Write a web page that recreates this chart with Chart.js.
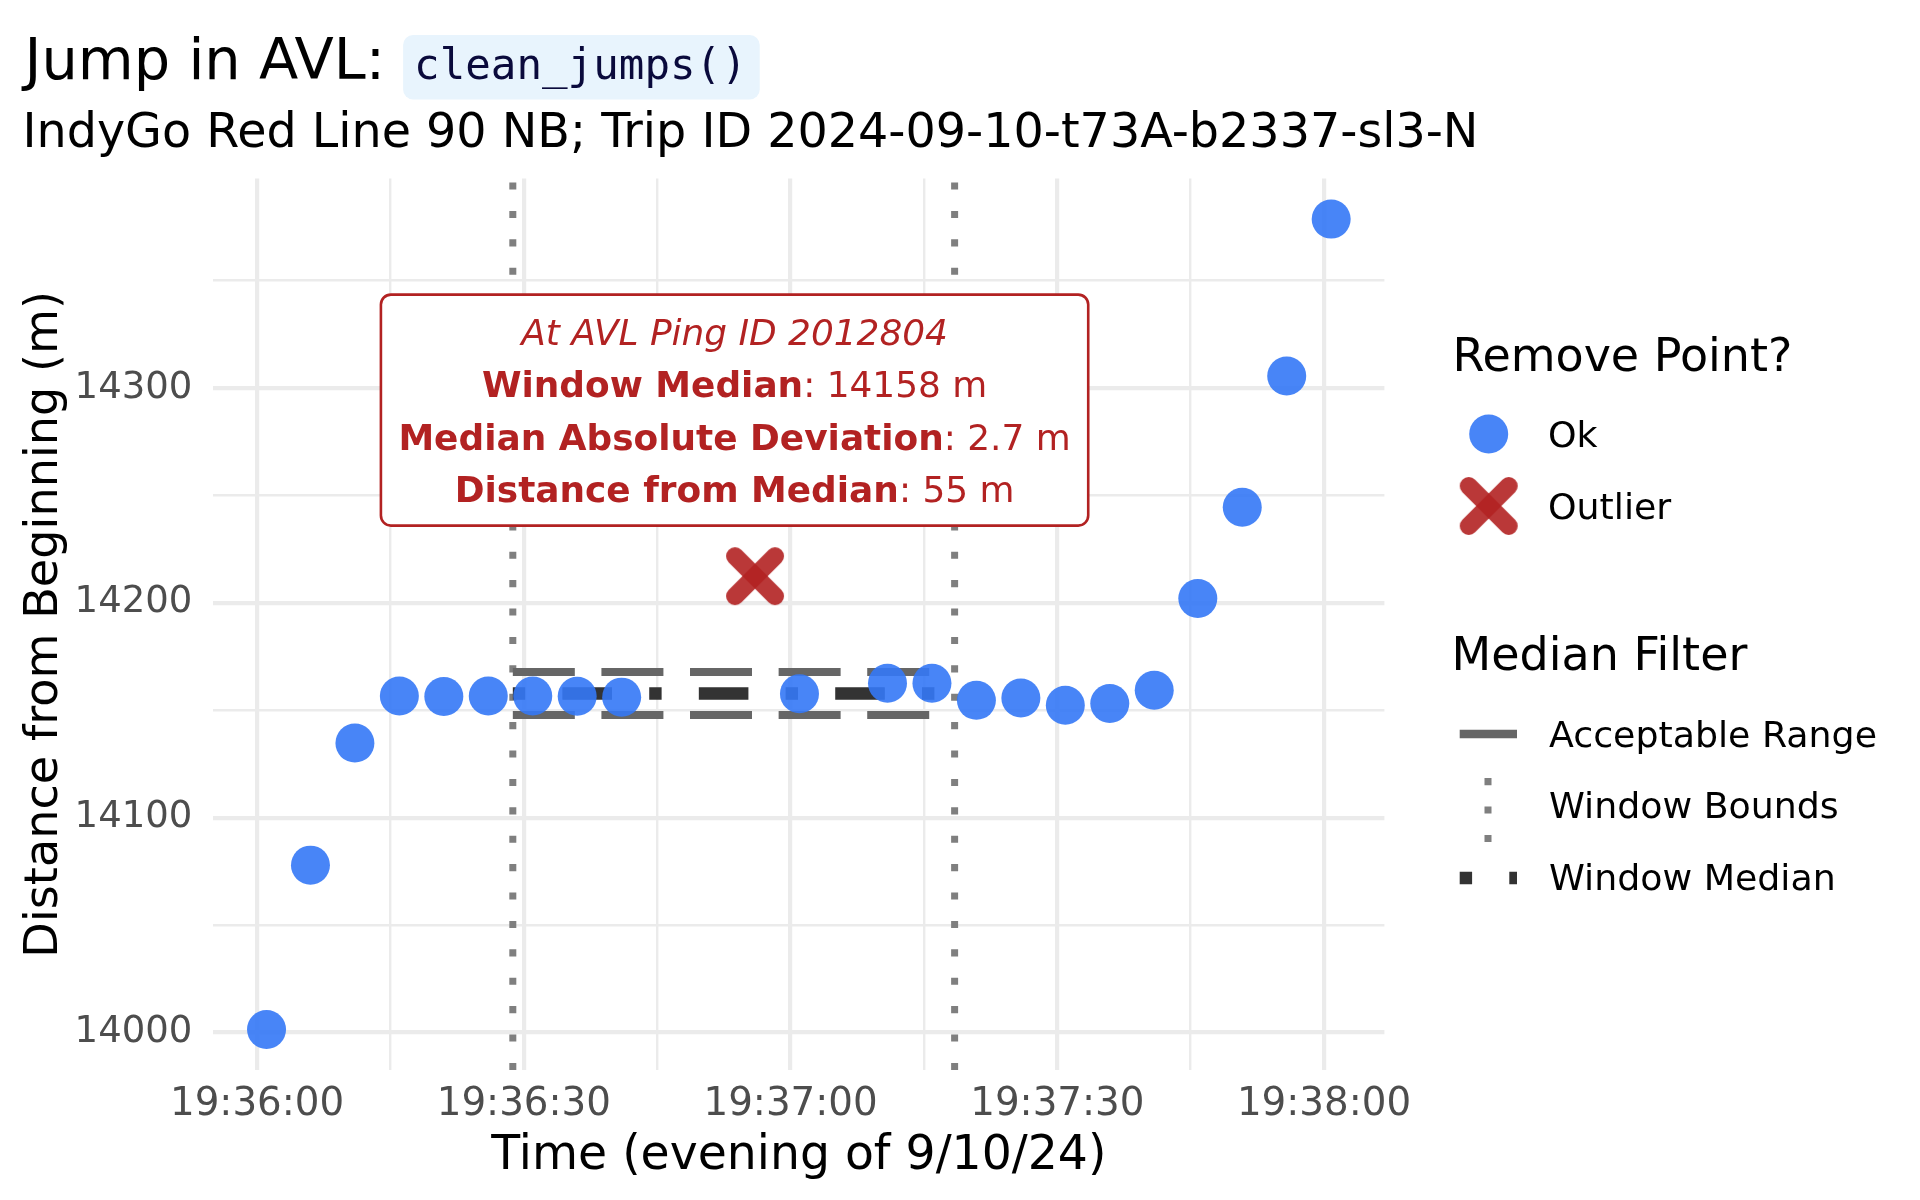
<!DOCTYPE html>
<html><head><meta charset="utf-8">
<script src="https://cdn.jsdelivr.net/npm/chart.js@4.4.1/dist/chart.umd.min.js"></script>
<style>html,body{margin:0;padding:0;background:#fff;} #wrap{width:1920px;height:1200px;position:relative;}</style>
</head><body><div id="wrap"><canvas id="c" width="1920" height="1200"></canvas></div>
<script>
// ---- data (seconds after 19:36:00, metres from beginning) ----
const okTimes = [1.06, 6.0, 11.0, 16.0, 21.0, 26.0, 31.0, 36.0, 41.0, 61.0, 70.9, 75.9, 80.9, 85.9, 90.9, 95.9, 100.9, 105.8, 110.8, 115.8, 120.8];
const okDist  = [14001.4, 14077.9, 14134.7, 14156.6, 14156.4, 14156.6, 14156.6, 14156.5, 14156.1, 14157.7, 14162.6, 14162.6, 14154.6, 14155.7, 14152.3, 14153.1, 14159.3, 14202.0, 14244.5, 14305.6, 14378.6];
const outlierTimes = [56.0];
const outlierDist  = [14212.4];
const windowBounds = [28.76, 78.45];
const windowMedian = [14157.8];
const acceptableRange = [14147.8, 14167.8];
const xTickValues = [0, 30, 60, 90, 120];
const xTickLabels = ['19:36:00', '19:36:30', '19:37:00', '19:37:30', '19:38:00'];
const yTickValues = [14000, 14100, 14200, 14300];
const yTickLabels = ['14000', '14100', '14200', '14300'];
const annotAnchor = [53.7, 14289.7];
const annotLines = [
  [['At AVL Ping ID 2012804', 'italic']],
  [['Window Median', 'bold'], [': 14158 m', 'normal']],
  [['Median Absolute Deviation', 'bold'], [': 2.7 m', 'normal']],
  [['Distance from Median', 'bold'], [': 55 m', 'normal']]
];
const legendPoint = ['Ok', 'Outlier'];
const legendFilter = ['Acceptable Range', 'Window Bounds', 'Window Median'];

// ---- scale limits: 5% expansion of data range ----
const allT = okTimes.concat(outlierTimes), allD = okDist.concat(outlierDist);
const tMin = Math.min(...allT), tMax = Math.max(...allT);
const dMin = Math.min(...allD), dMax = Math.max(...allD);
const xMin = tMin - 0.05 * (tMax - tMin), xMax = tMax + 0.05 * (tMax - tMin);
const yMin = dMin - 0.05 * (dMax - dMin), yMax = dMax + 0.05 * (dMax - dMin);

const FONT = '"DejaVu Sans"';
const BLUE = 'rgba(52,120,246,0.9)';
const RED = 'rgba(178,34,34,0.9)';

function makeCross(size, arm, lw) {
  const c = document.createElement('canvas');
  c.width = size; c.height = size;
  const g = c.getContext('2d');
  const m = size / 2;
  g.strokeStyle = RED; g.lineWidth = lw; g.lineCap = 'round';
  g.beginPath(); g.moveTo(m - arm, m - arm); g.lineTo(m + arm, m + arm); g.stroke();
  g.beginPath(); g.moveTo(m + arm, m - arm); g.lineTo(m - arm, m + arm); g.stroke();
  return c;
}
const crossImg = makeCross(64, 20, 18);

const medDash = [12.4, 37.2, 49.6, 37.2];
const rangeDash = [62, 26.6];
const boundDash = [7.1, 21.3];

function drawCrossAt(ctx, x, y) {
  ctx.drawImage(crossImg, x - crossImg.width / 2, y - crossImg.height / 2);
}

const decor = {
  id: 'decor',
  afterDraw(chart) {
    const ctx = chart.ctx, ca = chart.chartArea;
    const xs = chart.scales.x, ys = chart.scales.y;
    ctx.save();
    ctx.textAlign = 'left'; ctx.textBaseline = 'alphabetic';
    // title
    ctx.fillStyle = '#000';
    ctx.font = '57.4px ' + FONT;
    const t1 = 'Jump in AVL:';
    ctx.fillText(t1, 24.5, 79);
    const w1 = ctx.measureText(t1).width;
    ctx.font = '42.5px "DejaVu Sans Mono"';
    const code = 'clean_jumps()';
    const cw = ctx.measureText(code).width;
    const bx = 24.5 + w1 + 18, by = 35, bw = cw + 24, bh = 64.5;
    ctx.fillStyle = '#E8F4FD';
    ctx.beginPath(); ctx.roundRect(bx, by, bw, bh, 10); ctx.fill();
    ctx.fillStyle = '#0A0A3C';
    ctx.fillText(code, bx + 11, 79);
    // subtitle
    ctx.fillStyle = '#000';
    ctx.font = '47.6px ' + FONT;
    ctx.fillText('IndyGo Red Line 90 NB; Trip ID 2024-09-10-t73A-b2337-sl3-N', 22.5, 146.5);
    // axis titles
    ctx.font = '47.3px ' + FONT;
    ctx.textAlign = 'center';
    ctx.fillText('Time (evening of 9/10/24)', (ca.left + ca.right) / 2, 1169);
    ctx.save();
    ctx.font = '46.2px ' + FONT;
    ctx.translate(56.5, (ca.top + ca.bottom) / 2);
    ctx.rotate(-Math.PI / 2);
    ctx.fillText('Distance from Beginning (m)', 0, 0);
    ctx.restore();

    // annotation label
    const cx = xs.getPixelForValue(annotAnchor[0]);
    const cy = ys.getPixelForValue(annotAnchor[1]);
    const fs = 35.9;
    const fontFor = st => (st === 'bold' ? 'bold ' : st === 'italic' ? 'italic ' : '') + fs + 'px ' + FONT;
    let maxW = 0;
    const widths = annotLines.map(line => {
      let w = 0;
      line.forEach(([txt, st]) => { ctx.font = fontFor(st); w += ctx.measureText(txt).width; });
      maxW = Math.max(maxW, w);
      return w;
    });
    const pad = 17.5, boxW = maxW + 2 * pad, boxH = 231;
    ctx.fillStyle = '#fff'; ctx.strokeStyle = '#B22222'; ctx.lineWidth = 2.6;
    ctx.beginPath(); ctx.roundRect(cx - boxW / 2, cy - boxH / 2, boxW, boxH, 10); ctx.fill(); ctx.stroke();
    ctx.fillStyle = '#B22222'; ctx.textAlign = 'left';
    const offs = [-65.5, -13, 39.5, 92];
    annotLines.forEach((line, i) => {
      let x = cx - widths[i] / 2;
      line.forEach(([txt, st]) => {
        ctx.font = fontFor(st);
        ctx.fillText(txt, x, cy + offs[i]);
        x += ctx.measureText(txt).width;
      });
    });

    // legend: Remove Point?
    ctx.fillStyle = '#000';
    ctx.font = '46px ' + FONT;
    ctx.fillText('Remove Point?', 1452.5, 371);
    ctx.fillStyle = BLUE;
    ctx.beginPath(); ctx.arc(1488.7, 434, 19.5, 0, Math.PI * 2); ctx.fill();
    drawCrossAt(ctx, 1488.7, 506);
    ctx.fillStyle = '#000';
    ctx.font = '36.3px ' + FONT;
    ctx.fillText(legendPoint[0], 1548, 446.5);
    ctx.fillText(legendPoint[1], 1548, 518.5);

    // legend: Median Filter
    ctx.font = '46px ' + FONT;
    ctx.fillText('Median Filter', 1451.5, 670);
    ctx.lineCap = 'butt';
    // acceptable range key
    ctx.strokeStyle = '#666666'; ctx.lineWidth = 8.7; ctx.setLineDash([]);
    ctx.beginPath(); ctx.moveTo(1459.7, 734); ctx.lineTo(1517, 734); ctx.stroke();
    // window bounds key
    ctx.strokeStyle = '#7F7F7F'; ctx.lineWidth = 7; ctx.setLineDash(boundDash);
    ctx.beginPath(); ctx.moveTo(1488, 842); ctx.lineTo(1488, 776); ctx.stroke();
    // window median key
    ctx.strokeStyle = '#333333'; ctx.lineWidth = 12.4; ctx.setLineDash(medDash);
    ctx.beginPath(); ctx.moveTo(1459.7, 878); ctx.lineTo(1517, 878); ctx.stroke();
    ctx.setLineDash([]);
    ctx.fillStyle = '#000';
    ctx.font = '36.3px ' + FONT;
    ctx.fillText(legendFilter[0], 1549, 746.8);
    ctx.fillText(legendFilter[1], 1549, 818);
    ctx.fillText(legendFilter[2], 1549, 889.8);
    ctx.restore();
  }
};

const lineDS = (label, data, color, width, dash, order) => ({
  label, data, showLine: true, borderColor: color, borderWidth: width, borderDash: dash,
  borderCapStyle: 'butt', pointRadius: 0, pointHoverRadius: 0, fill: false, order
});

const datasets = [
  lineDS('Window Bounds L', [{x: windowBounds[0], y: yMin}, {x: windowBounds[0], y: yMax}], '#7F7F7F', 7, boundDash, 6),
  lineDS('Window Bounds R', [{x: windowBounds[1], y: yMin}, {x: windowBounds[1], y: yMax}], '#7F7F7F', 7, boundDash, 6),
  lineDS('Acceptable Upper', [{x: windowBounds[0], y: acceptableRange[1]}, {x: windowBounds[1], y: acceptableRange[1]}], '#666666', 8, rangeDash, 5),
  lineDS('Acceptable Lower', [{x: windowBounds[0], y: acceptableRange[0]}, {x: windowBounds[1], y: acceptableRange[0]}], '#666666', 8, rangeDash, 5),
  lineDS('Window Median', [{x: windowBounds[0], y: windowMedian[0]}, {x: windowBounds[1], y: windowMedian[0]}], '#333333', 12.4, medDash, 4),
  {
    label: 'Ok', data: okTimes.map((t, i) => ({x: t, y: okDist[i]})),
    backgroundColor: BLUE, borderWidth: 0, pointRadius: 19.5, pointHoverRadius: 19.5, order: 2
  },
  {
    label: 'Outlier', data: outlierTimes.map((t, i) => ({x: t, y: outlierDist[i]})),
    pointStyle: crossImg, pointRadius: 30, order: 1
  }
];

new Chart(document.getElementById('c'), {
  type: 'scatter',
  data: { datasets },
  options: {
    responsive: false,
    animation: false,
    events: [],
    layout: { padding: { left: 0, right: 1920 - 1384.4, top: 178.6, bottom: 0 } },
    plugins: { legend: { display: false }, tooltip: { enabled: false }, title: { display: false } },
    scales: {
      x: {
        type: 'linear', min: xMin, max: xMax,
        afterFit: s => { s.height = 130; },
        border: { display: false },
        grid: {
          color: '#EBEBEB', drawTicks: false,
          lineWidth: c => (c.tick && xTickValues.includes(c.tick.value)) ? 4.2 : 2.4
        },
        ticks: {
          stepSize: 15, includeBounds: false, autoSkip: false, maxRotation: 0, minRotation: 0,
          padding: 12, color: '#4D4D4D', font: { family: 'DejaVu Sans', size: 38.8 },
          callback: v => { const i = xTickValues.indexOf(v); return i >= 0 ? xTickLabels[i] : ''; }
        }
      },
      y: {
        type: 'linear', min: yMin, max: yMax,
        afterFit: s => { s.width = 213.3; },
        border: { display: false },
        grid: {
          color: '#EBEBEB', drawTicks: false,
          lineWidth: c => (c.tick && yTickValues.includes(c.tick.value)) ? 4.2 : 2.4
        },
        ticks: {
          stepSize: 50, includeBounds: false, autoSkip: false,
          padding: 21, color: '#4D4D4D', font: { family: 'DejaVu Sans', size: 37 },
          callback: v => { const i = yTickValues.indexOf(v); return i >= 0 ? yTickLabels[i] : ''; }
        }
      }
    }
  },
  plugins: [decor]
});
</script></body></html>
